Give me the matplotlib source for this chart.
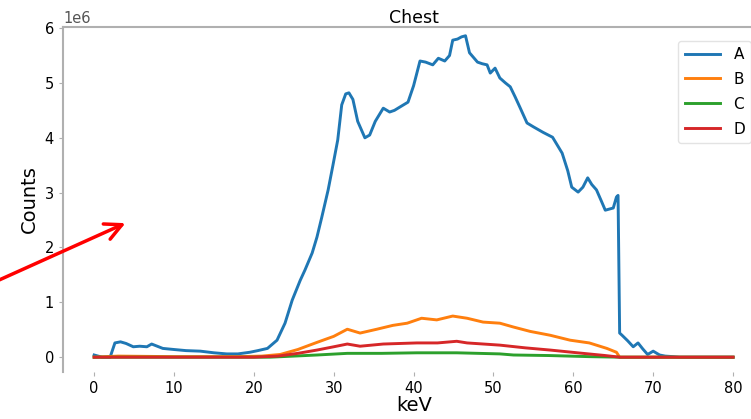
import matplotlib
matplotlib.use("Agg")
import matplotlib.pyplot as plt

# energie (keV) et comptages (en millions)
kev_a = [0, 1, 2, 2.6, 3.3, 4, 4.9, 5.7, 6.6, 7.2, 8.6, 10, 11.5, 13.3, 15, 16.6, 18, 19.5,
         20.5, 21.7, 22.9, 23.9, 24.8, 25.8, 26.4, 27.3, 27.9, 28.5, 29.3, 29.9, 30.5, 31,
         31.5, 31.9, 32.4, 33, 33.9, 34.5, 35.2, 36.2, 37, 37.6, 38.5, 39.3, 40, 40.8, 41.5,
         42.4, 43.1, 43.9, 44.5, 44.9, 45.5, 46, 46.5, 47, 48, 48.6, 49.2, 49.6, 50.2, 50.8,
         51.5, 52.1, 52.7, 53.3, 54.2, 55, 56.2, 57.4, 58.6, 59.3, 59.8, 60.6, 61.2, 61.8,
         62.3, 62.9, 63.5, 64, 64.5, 65, 65.4, 65.6, 65.8, 66.1, 66.8, 67.5, 68.1, 68.7,
         69.3, 70, 70.8, 71.5, 72.5, 73.3, 75, 80]
counts_a = [0.04, 0, 0, 0.26, 0.28, 0.25, 0.19, 0.2, 0.19, 0.24, 0.16, 0.14, 0.12, 0.11, 0.08,
            0.06, 0.06, 0.09, 0.12, 0.16, 0.31, 0.62, 1.04, 1.4, 1.59, 1.9, 2.19, 2.55, 3.05,
            3.5, 3.96, 4.6, 4.8, 4.82, 4.7, 4.3, 4.0, 4.05, 4.3, 4.54, 4.47, 4.5, 4.58, 4.65,
            4.95, 5.40, 5.38, 5.33, 5.45, 5.40, 5.5, 5.78, 5.8, 5.84, 5.86, 5.55, 5.38, 5.35,
            5.33, 5.18, 5.27, 5.09, 5.0, 4.93, 4.75, 4.56, 4.27, 4.2, 4.1, 4.01, 3.72, 3.4,
            3.10, 3.01, 3.1, 3.27, 3.15, 3.05, 2.85, 2.68, 2.7, 2.72, 2.92, 2.95, 0.44, 0.40,
            0.3, 0.19, 0.26, 0.15, 0.05, 0.11, 0.04, 0.02, 0.01, 0.0, 0.0, 0.0]

kev_b = [0, 3, 10, 18, 21, 23.3, 25.5, 27.9, 30, 31.7, 33.3, 35.4, 37.4, 39.2, 41, 42.9,
         44.9, 46.7, 48.7, 50.8, 52.5, 54.6, 57.1, 59.6, 62, 64.2, 65.4, 65.8, 80]
counts_b = [0, 0.02, 0.01, 0.01, 0.02, 0.05, 0.14, 0.27, 0.38, 0.51, 0.44, 0.51, 0.58, 0.62,
            0.71, 0.68, 0.75, 0.71, 0.64, 0.62, 0.55, 0.47, 0.40, 0.31, 0.26, 0.16, 0.09, 0, 0]

kev_c = [0, 22, 25, 27.9, 31.7, 36, 40.4, 45.4, 50.8, 52.5, 57, 62, 65.8, 80]
counts_c = [0, 0, 0.02, 0.04, 0.07, 0.07, 0.08, 0.08, 0.06, 0.04, 0.03, 0.01, 0, 0]

kev_d = [0, 20, 23, 25.5, 27.9, 30, 31.7, 33.3, 36.2, 40.4, 43, 45.4, 46.7, 50.8, 54, 57.1,
         61.2, 64, 65.8, 80]
counts_d = [0, 0, 0.02, 0.07, 0.13, 0.19, 0.24, 0.20, 0.24, 0.26, 0.26, 0.29, 0.26, 0.22,
            0.17, 0.13, 0.07, 0.03, 0, 0]

series = [("A", kev_a, counts_a), ("B", kev_b, counts_b),
          ("C", kev_c, counts_c), ("D", kev_d, counts_d)]

fig = plt.figure(figsize=(7.51, 4.19), dpi=100)
# l'axe depasse a droite : la capture d'origine est rognee
ax = fig.add_axes([63 / 751, 1 - 372 / 419, 702 / 751, 345 / 419])

for nom, x, y in series:
    ax.plot(x, [v * 1e6 for v in y], lw=2.1, label=nom)

ax.set_xlim(-3.9, 84)
ax.set_ylim(-0.27e6, 6.02e6)
ax.set_xticks(range(0, 81, 10))
ax.set_title("Chest", fontsize=12.5, pad=2)
ax.set_xlabel("keV", fontsize=14, labelpad=0)
ax.set_ylabel("Counts", fontsize=14, labelpad=4)
ax.tick_params(labelsize=10.5, color="#b0b0b0", length=3)
ax.yaxis.get_offset_text().set_fontsize(10.5)
ax.yaxis.get_offset_text().set_color("#555555")

for cote in ["left", "top", "right"]:
    ax.spines[cote].set_color("#b0b0b0")
    ax.spines[cote].set_linewidth(1.5)
ax.spines["bottom"].set_visible(False)

ax.legend(loc="upper right", fontsize=11, handlelength=2.3, handletextpad=0.9,
          labelspacing=0.65, borderaxespad=0.9, edgecolor="#dddddd")

# fleche rouge ajoutee sur la capture
ax.annotate("", xy=(128 / 751, 1 - 222 / 419), xytext=(-0.01, 1 - 283 / 419),
            xycoords="figure fraction", textcoords="figure fraction",
            arrowprops=dict(arrowstyle="->", color="red", lw=2.5, mutation_scale=30))

fig.savefig("out.png", dpi=100)
